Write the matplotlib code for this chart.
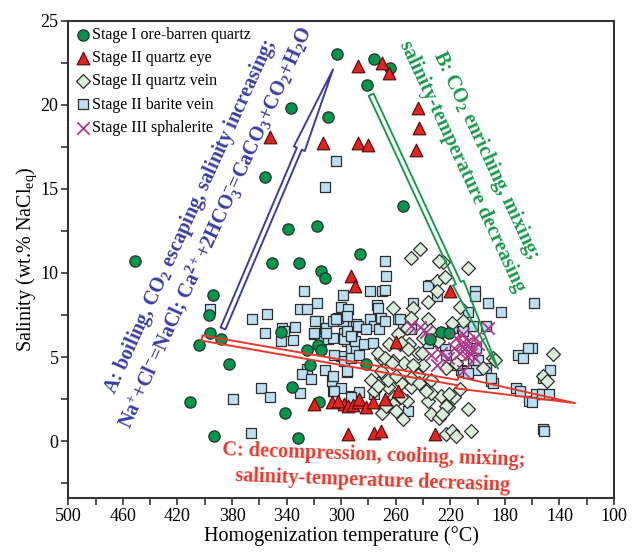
import matplotlib
matplotlib.use("Agg")
import matplotlib.pyplot as plt
from matplotlib.patches import FancyArrowPatch
from matplotlib.ticker import MultipleLocator

plt.rcParams.update({
    "font.family": ["Liberation Serif", "DejaVu Serif"],
    "mathtext.fontset": "custom",
    "mathtext.rm": "Liberation Serif",
    "mathtext.it": "Liberation Serif:italic",
    "mathtext.bf": "Liberation Serif:bold",
})

# Stage I ore-barren quartz: homogenization temperature (C), salinity (wt.% NaCl eq)
s1_T = [303, 337, 310, 356, 276, 264, 281, 255, 286, 451, 339, 318, 351, 331, 315, 312, 394, 397, 396,
        388, 404, 382, 344, 325, 317, 315, 323, 336, 411, 316, 341, 393, 332, 282, 235, 227, 221]
s1_S = [23.0, 19.8, 19.3, 15.7, 22.7, 22.2, 21.2, 14.0, 11.1, 10.7, 12.6, 12.8, 10.6, 10.6, 10.1, 9.7, 8.7,
        7.5, 6.4, 6.1, 5.7, 4.6, 6.5, 5.4, 5.7, 5.4, 4.5, 3.2, 2.3, 2.3, 1.7, 0.3, 0.2, 4.6, 6.1, 6.5, 6.4]

# Stage II quartz eye
eye_T = [352, 313, 288, 280, 288, 270, 265, 244, 243, 245, 293, 290, 220, 260, 320, 307, 298, 295, 291, 288,
         287, 282, 277, 268, 258, 295, 276, 271, 231, 302]
eye_S = [18.1, 17.7, 17.7, 17.6, 22.3, 22.5, 21.9, 19.8, 18.6, 17.3, 9.8, 9.2, 8.9, 5.9, 2.2, 2.3, 2.2, 2.1,
         2.15, 2.3, 2.5, 2.0, 2.3, 2.5, 3.0, 0.45, 0.5, 0.6, 0.4, 2.4]

# Stage II quartz vein
vein_T = [249, 242, 225, 207, 230, 224, 236, 262, 247, 213, 236, 249, 211, 265, 257, 250, 244, 271, 262, 254,
          240, 223, 196, 189, 273, 266, 256, 249, 234, 276, 261, 235, 227, 217, 268, 262, 255, 236, 234, 228,
          222, 207, 223, 219, 216, 205, 145, 152, 149, 258, 252, 271, 252, 244, 229, 240, 256, 251, 273, 268,
          263, 247, 241, 278, 273, 266, 260, 249, 243, 234, 270, 267, 260, 256, 221, 213, 223, 216, 187, 228,
          230, 226, 238, 235, 219]
vein_S = [10.9, 11.4, 10.65, 10.3, 9.5, 9.75, 8.3, 7.9, 7.9, 8.0, 7.25, 7.35, 7.15, 5.75, 5.75, 5.75, 5.25,
          4.95, 4.75, 4.65, 4.55, 4.35, 4.35, 4.95, 3.45, 3.2, 3.45, 3.2, 3.65, 2.95, 2.6, 2.85, 2.7, 2.6, 1.9,
          2.2, 1.3, 2.4, 1.6, 1.4, 2.0, 1.9, 0.4, 0.6, 0.3, 0.6, 5.2, 3.85, 3.6, 6.35, 6.75, 4.15, 2.4, 3.95,
          5.95, 6.15, 5.85, 5.45, 5.25, 4.95, 4.65, 4.55, 5.25, 3.65, 3.25, 3.65, 3.85, 3.75, 3.45, 2.85, 1.7,
          2.1, 1.8, 2.6, 2.8, 3.1, 2.1, 4.65, 4.85, 10.7, 8.9, 1.6, 3.0, 6.6, 7.0]

# Stage II barite vein
bar_T = [327, 299, 396, 318, 330, 325, 300, 295, 365, 354, 356, 343, 334, 344, 335, 317, 312, 304, 296, 288,
         320, 315, 310, 296, 292, 293, 289, 300, 312, 307, 306, 296, 359, 352, 379, 366, 292, 287, 304, 312,
         268, 267, 279, 270, 268, 274, 273, 235, 247, 258, 255, 279, 276, 272, 293, 289, 299, 302, 298, 306,
         298, 290, 283, 277, 305, 298, 293, 287, 296, 300, 305, 293, 276, 306, 236, 229, 249, 211, 224, 223,
         203, 201, 172, 169, 162, 152, 152, 157, 152, 212, 211, 159, 160, 147, 153, 148, 160, 151, 230, 202,
         202, 192, 183, 207, 203, 194, 219, 236, 170, 163, 167, 200, 194, 190, 215, 207, 201, 189, 190, 251,
         342, 319, 311, 306, 311, 320, 296, 293, 288, 282, 271, 268, 257, 304, 296, 330, 325, 329, 322]
bar_S = [8.9, 8.7, 7.85, 8.2, 7.85, 7.85, 8.0, 7.85, 7.25, 7.55, 6.4, 6.75, 6.8, 5.95, 6.0, 7.15, 6.65, 7.25,
         6.65, 6.8, 6.35, 5.95, 6.05, 5.95, 6.15, 5.55, 5.45, 5.05, 4.25, 3.55, 2.95, 4.1, 3.15, 2.65, 2.5, 0.5,
         2.7, 2.9, 16.65, 15.1, 10.7, 9.8, 8.9, 8.9, 9.0, 8.1, 7.9, 9.3, 8.2, 7.25, 6.95, 7.25, 6.85, 6.65,
         6.85, 6.95, 7.15, 7.35, 6.45, 6.15, 6.05, 5.95, 5.75, 5.85, 5.15, 4.75, 4.95, 5.15, 4.15, 3.15, 2.95,
         2.6, 2.8, 3.85, 5.85, 5.95, 6.65, 6.55, 5.45, 5.15, 4.85, 4.25, 3.15, 2.95, 2.4, 3.75, 2.8, 2.8, 0.7,
         4.25, 4.15, 8.2, 5.55, 4.25, 2.8, 2.8, 2.3, 0.6, 8.6, 8.9, 8.6, 8.2, 7.7, 7.7, 6.85, 6.85, 6.75, 9.2,
         5.15, 5.55, 4.95, 4.85, 4.35, 3.55, 4.55, 4.05, 5.55, 3.45, 3.75, 1.8, 6.55, 7.15, 6.75, 7.15, 6.45,
         6.45, 6.55, 6.25, 6.85, 6.65, 7.35, 7.15, 7.25, 7.25, 7.45, 2.85, 4.3, 4.0, 3.7]

# Stage III sphalerite
sph_T = [249, 238, 234, 230, 227, 222, 216, 212, 210, 207, 205, 202, 213, 208, 202, 211, 192, 200, 217, 211,
         242, 205, 209]
sph_S = [6.85, 6.5, 5.15, 4.55, 5.25, 4.95, 6.15, 5.75, 5.45, 5.95, 5.55, 6.15, 5.25, 5.05, 4.95, 4.15, 6.75,
         5.75, 5.55, 6.35, 6.8, 5.2, 5.8]

x_ticks = [500, 460, 420, 380, 340, 300, 260, 220, 180, 140, 100]
y_ticks = [0, 5, 10, 15, 20, 25]

edge = "#2e2e2e"
fig = plt.figure(figsize=(6.32, 5.55), dpi=100)
ax = fig.add_axes([0.1081, 0.1022, 0.8634, 0.8605])

h_bar = ax.scatter(bar_T, bar_S, marker="s", s=62, c="#bcdff1", edgecolors=edge, linewidths=0.9, zorder=2,
                   label="Stage II barite vein")
h_vein = ax.scatter(vein_T, vein_S, marker="D", s=50, c="#dbeedb", edgecolors=edge, linewidths=0.9, zorder=3,
                    label="Stage II quartz vein")
h_s1 = ax.scatter(s1_T, s1_S, marker="o", s=66, c="#00984a", edgecolors=edge, linewidths=0.9, zorder=4,
                  label="Stage I ore-barren quartz")
h_eye = ax.scatter(eye_T, eye_S, marker="^", s=82, c="#e3231f", edgecolors="#5a1010", linewidths=0.9, zorder=4,
                   label="Stage II quartz eye")
h_sph = ax.scatter(sph_T, sph_S, marker="x", s=80, c="#b23a8e", linewidths=1.3, zorder=6,
                   label="Stage III sphalerite")

ax.set_xlim(500, 100)
ax.set_ylim(-3.4, 25)
ax.set_xticks(x_ticks)
ax.xaxis.set_minor_locator(MultipleLocator(20))
ax.set_yticks(y_ticks)
ax.yaxis.set_minor_locator(MultipleLocator(2.5))
ax.tick_params(which="both", direction="out", length=5, width=1.2, color="#333333", top=False, right=False)
ax.tick_params(labelsize=13, pad=2)
for sp in ax.spines.values():
    sp.set_linewidth(1.5)
    sp.set_color("#333333")
ax.set_xlabel("Homogenization temperature (°C)", fontsize=14.5, labelpad=1)
ax.set_ylabel(r"Salinity (wt.% NaCl$_{\mathrm{eq}}$)", fontsize=14.5, labelpad=1)

ax.legend(handles=[h_s1, h_eye, h_vein, h_bar, h_sph], loc="upper left", frameon=False, fontsize=11.5,
          handletextpad=0.1, handlelength=1.0, labelspacing=0.45, borderaxespad=0.1, borderpad=0.3)


def hollow_arrow(t0, s0, t1, s1, color, head_len):
    ar = FancyArrowPatch((t0, s0), (t1, s1),
                         arrowstyle=f"simple,head_length={head_len},head_width=8.5,tail_width=3.8",
                         mutation_scale=1, shrinkA=0, shrinkB=0, facecolor="none", edgecolor=color,
                         lw=1.4, zorder=7)
    ax.add_patch(ar)


blue, green, red = "#3c3ca2", "#1b9a4f", "#e8382b"
hollow_arrow(386.6, 6.7, 306, 22.1, blue, 62)
hollow_arrow(278, 20.6, 185, 4.3, green, 68)
hollow_arrow(402, 6.13, 128.6, 2.26, red, 86)

ax.text(400.5, 13.0,
        "A: boiling, CO$_{\\mathbf{2}}$ escaping, salinity increasing;\n"
        "Na$^{\\mathbf{+}}$+Cl$^{\\mathbf{-}}$=NaCl; Ca$^{\\mathbf{2+}}$+2HCO$_{\\mathbf{3}}^{\\mathbf{-}}$"
        "=CaCO$_{\\mathbf{3}}$+CO$_{\\mathbf{2}}$+H$_{\\mathbf{2}}$O",
        rotation=65.5, rotation_mode="anchor", ha="center", va="center", color=blue, fontsize=14.6,
        fontweight="bold", linespacing=1.15, zorder=8)
ax.text(201.8, 16.7,
        "B: CO$_{\\mathbf{2}}$ enriching, mixing;\nsalinity-temperature decreasing",
        rotation=-65, rotation_mode="anchor", ha="center", va="center", color=green, fontsize=14.6,
        fontweight="bold", linespacing=1.25, zorder=8)
ax.text(276.2, -1.6,
        "C: decompression, cooling, mixing;\nsalinity-temperature decreasing",
        rotation=-2, rotation_mode="anchor", ha="center", va="center", color=red, fontsize=14.6,
        fontweight="bold", linespacing=1.4, zorder=8)

fig.savefig("out.png", dpi=100)
